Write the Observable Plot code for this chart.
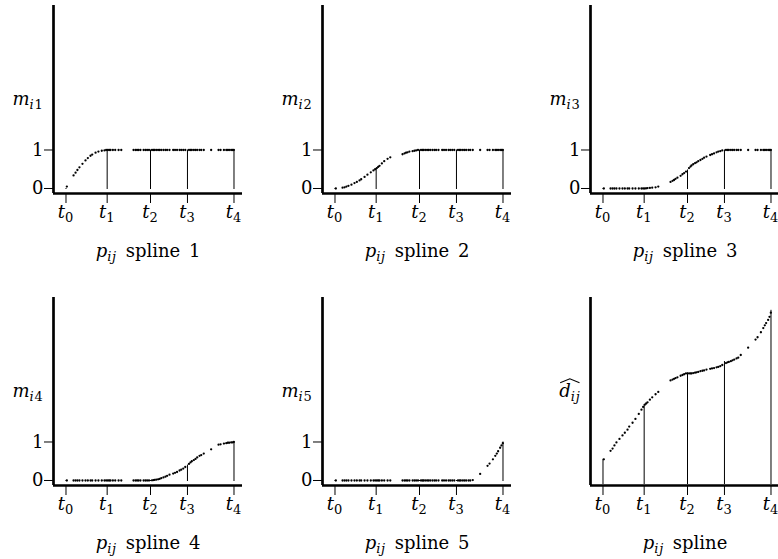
<!DOCTYPE html>
<html>
<head>
<meta charset="utf-8">
<script src="https://cdn.jsdelivr.net/npm/d3@7"></script>
<script src="https://cdn.jsdelivr.net/npm/@observablehq/plot@0.6"></script>
<style>
  body { margin: 0; background: #fff; }
  #figure { position: relative; width: 778px; height: 559px; overflow: hidden; background: #fff; }
  #figure svg { position: absolute; }
</style>
</head>
<body>
<div id="figure"></div>
<script>
// Observed predictor values p_ij (knot t0 = 0, knot t4 = 1)
const p = [
  0.005, 0.045, 0.057, 0.068, 0.080, 0.098, 0.116, 0.130, 0.146, 0.156,
  0.176, 0.193, 0.213, 0.229, 0.239, 0.249, 0.257, 0.265, 0.279, 0.293,
  0.313, 0.329, 0.402, 0.414, 0.423, 0.432, 0.443, 0.462, 0.473, 0.483,
  0.494, 0.512, 0.521, 0.527, 0.537, 0.548, 0.557, 0.567, 0.580, 0.592,
  0.602, 0.616, 0.638, 0.649, 0.661, 0.676, 0.686, 0.698, 0.710, 0.732,
  0.741, 0.749, 0.761, 0.771, 0.781, 0.795, 0.805, 0.820, 0.864, 0.908,
  0.920, 0.940, 0.954, 0.963, 0.971, 0.983, 0.991, 0.999
];

// Monotone spline basis values m_i1 .. m_i5 at each p_ij
const m1 = [
  0.05, 0.34, 0.41, 0.48, 0.55, 0.64, 0.73, 0.79, 0.85, 0.88,
  0.93, 0.96, 0.98, 0.99, 1, 1, 1, 1, 1, 1,
  1, 1, 1, 1, 1, 1, 1, 1, 1, 1,
  1, 1, 1, 1, 1, 1, 1, 1, 1, 1,
  1, 1, 1, 1, 1, 1, 1, 1, 1, 1,
  1, 1, 1, 1, 1, 1, 1, 1, 1, 1,
  1, 1, 1, 1, 1, 1, 1, 1
];
const m2 = [
  0, 0.02, 0.03, 0.05, 0.07, 0.10, 0.14, 0.17, 0.21, 0.24,
  0.30, 0.36, 0.42, 0.47, 0.50, 0.53, 0.56, 0.59, 0.65, 0.71,
  0.77, 0.81, 0.89, 0.91, 0.93, 0.94, 0.96, 0.97, 0.98, 0.99,
  1, 1, 1, 1, 1, 1, 1, 1, 1, 1,
  1, 1, 1, 1, 1, 1, 1, 1, 1, 1,
  1, 1, 1, 1, 1, 1, 1, 1, 1, 1,
  1, 1, 1, 1, 1, 1, 1, 1
];
const m3 = [
  0, 0, 0, 0, 0, 0, 0, 0, 0, 0,
  0, 0, 0, 0, 0, 0, 0.005, 0.01, 0.015, 0.02,
  0.03, 0.05, 0.17, 0.20, 0.22, 0.25, 0.28, 0.33, 0.37, 0.40,
  0.44, 0.53, 0.57, 0.60, 0.63, 0.66, 0.68, 0.71, 0.74, 0.77,
  0.80, 0.83, 0.87, 0.89, 0.91, 0.94, 0.96, 0.97, 0.99, 1,
  1, 1, 1, 1, 1, 1, 1, 1, 1, 1,
  1, 1, 1, 1, 1, 1, 1, 1
];
const m4 = [
  0, 0, 0, 0, 0, 0, 0, 0, 0, 0,
  0, 0, 0, 0, 0, 0, 0, 0, 0, 0,
  0, 0, 0, 0, 0, 0, 0, 0, 0, 0,
  0, 0.005, 0.01, 0.015, 0.02, 0.03, 0.04, 0.06, 0.08, 0.10,
  0.12, 0.15, 0.18, 0.20, 0.22, 0.26, 0.28, 0.31, 0.35, 0.43,
  0.47, 0.50, 0.53, 0.56, 0.60, 0.64, 0.66, 0.70, 0.81, 0.93,
  0.94, 0.96, 0.97, 0.98, 0.98, 0.99, 0.99, 1.00
];
const m5 = [
  0, 0, 0, 0, 0, 0, 0, 0, 0, 0,
  0, 0, 0, 0, 0, 0, 0, 0, 0, 0,
  0, 0, 0, 0, 0, 0, 0, 0, 0, 0,
  0, 0, 0, 0, 0, 0, 0, 0, 0, 0,
  0, 0, 0, 0, 0, 0, 0, 0, 0, 0,
  0, 0, 0, 0, 0, 0, 0, 0.01, 0.17, 0.38,
  0.44, 0.55, 0.64, 0.70, 0.76, 0.85, 0.91, 0.97
];
// Fitted spline d-hat_ij at each p_ij
const dhat = [
  0.55, 0.77, 0.83, 0.91, 0.99, 1.08, 1.17, 1.24, 1.32, 1.40,
  1.50, 1.60, 1.73, 1.84, 1.91, 1.97, 2.00, 2.03, 2.10, 2.16,
  2.24, 2.30, 2.60, 2.62, 2.64, 2.66, 2.68, 2.72, 2.74, 2.76,
  2.78, 2.78, 2.78, 2.78, 2.79, 2.80, 2.81, 2.82, 2.84, 2.85,
  2.86, 2.88, 2.90, 2.91, 2.92, 2.94, 2.95, 2.97, 3.00, 3.05,
  3.07, 3.08, 3.10, 3.12, 3.14, 3.17, 3.19, 3.26, 3.45, 3.66,
  3.72, 3.85, 3.96, 4.03, 4.09, 4.17, 4.25, 4.36
];

// Knots and each curve's value at the knots
const knots = [0, 0.245, 0.503, 0.723, 1];
const knotLabels = ["t_{0}", "t_{1}", "t_{2}", "t_{3}", "t_{4}"];
const knotM1 = [0, 1, 1, 1, 1];
const knotM2 = [0, 0.52, 1, 1, 1];
const knotM3 = [0, 0, 0.48, 1, 1];
const knotM4 = [0, 0, 0, 0.40, 1];
const knotM5 = [0, 0, 0, 0, 1];
const knotD = [0.55, 1.97, 2.80, 3.09, 4.42];

const yLabels = ["m_{i1}", "m_{i2}", "m_{i3}", "m_{i4}", "m_{i5}", "d_{ij}"];
const captions = ["p_{ij} spline 1", "p_{ij} spline 2", "p_{ij} spline 3",
                  "p_{ij} spline 4", "p_{ij} spline 5", "p_{ij} spline"];
const yTickValues = [0, 1];

const panels = [
  {values: m1, knotValues: knotM1, ylabel: yLabels[0], caption: captions[0], ticks: true},
  {values: m2, knotValues: knotM2, ylabel: yLabels[1], caption: captions[1], ticks: true},
  {values: m3, knotValues: knotM3, ylabel: yLabels[2], caption: captions[2], ticks: true},
  {values: m4, knotValues: knotM4, ylabel: yLabels[3], caption: captions[3], ticks: true},
  {values: m5, knotValues: knotM5, ylabel: yLabels[4], caption: captions[4], ticks: true},
  {values: dhat, knotValues: knotD, ylabel: yLabels[5], caption: captions[5], ticks: false, hat: true}
];

const FONT = "'DejaVu Serif', 'Liberation Serif', serif";
const SUB_SIZE = 13;
const SUB_SHIFT = 4;
const xDomain = [-0.0744, 1.0506];
const yDomain = [-0.13, 4.753];
const NS = "http://www.w3.org/2000/svg";

// Turn "x_{ab}" notation into italic symbols with lowered subscripts
function typeset(el) {
  const src = el.textContent;
  if (!src.includes("_{")) return;
  while (el.firstChild) el.removeChild(el.firstChild);
  let lowered = false;
  const span = (str, italic, sub) => {
    const ts = document.createElementNS(NS, "tspan");
    ts.textContent = str;
    if (italic) ts.setAttribute("font-style", "italic");
    if (sub) {
      ts.setAttribute("font-size", `${SUB_SIZE}px`);
      ts.setAttribute("letter-spacing", "0.8");
    }
    if (sub && !lowered) { ts.setAttribute("dy", SUB_SHIFT); lowered = true; }
    else if (!sub && lowered) { ts.setAttribute("dy", -SUB_SHIFT); lowered = false; }
    el.appendChild(ts);
  };
  const re = /([A-Za-z])_\{([^}]*)\}/g;
  let last = 0, m;
  while ((m = re.exec(src))) {
    if (m.index > last) span(src.slice(last, m.index), false, false);
    span(m[1], true, false);
    for (const piece of m[2].match(/[A-Za-z]+|[^A-Za-z]+/g)) {
      span(piece, /[A-Za-z]/.test(piece), true);
    }
    last = re.lastIndex;
  }
  if (last < src.length) span(src.slice(last), false, false);
  el.setAttribute("word-spacing", "3");
}

// Wide hat accent drawn over the whole typeset label (d-hat_ij)
function addHat(el) {
  const bb = el.getBBox();
  const base = el.getStartPositionOfChar(0).y;
  const x0 = bb.x + 1, x1 = bb.x + bb.width - 1, xm = (x0 + x1) / 2;
  const hat = document.createElementNS(NS, "path");
  hat.setAttribute("d", `M${x0},${base - 14.5}L${xm},${base - 18.5}L${x1},${base - 14.5}`);
  hat.setAttribute("fill", "none");
  hat.setAttribute("stroke", "black");
  hat.setAttribute("stroke-width", "1.1");
  const t = el.getAttribute("transform");
  if (t) hat.setAttribute("transform", t);
  el.parentNode.appendChild(hat);
}

const figure = document.getElementById("figure");
panels.forEach((panel, i) => {
  const row = Math.floor(i / 3), col = i % 3;
  const pts = p.map((v, k) => ({p: v, v: panel.values[k]}));
  const ks = knots.map((t, k) => ({t, v: panel.knotValues[k]}));
  const marks = [
    Plot.ruleX(ks, {x: "t", y1: yDomain[0], y2: "v", stroke: "black", strokeWidth: 1, insetTop: panel.hat ? -1 : -4}),
    Plot.dot(pts, {x: "p", y: "v", r: 1.15, fill: "black"}),
    Plot.axisX({ticks: knots, tickFormat: (d) => knotLabels[knots.indexOf(d)], tickSize: 10, tickPadding: 2, label: null}),
    Plot.ruleX([xDomain[0]], {stroke: "black", strokeWidth: 2.7}),
    Plot.ruleY([yDomain[0]], {stroke: "black", strokeWidth: 2.7}),
    Plot.text([panel.ylabel], {frameAnchor: "left", dx: -10, textAnchor: "end", text: (d) => d}),
    Plot.text([panel.caption], {frameAnchor: "bottom", dy: 63, text: (d) => d})
  ];
  if (panel.ticks) {
    marks.push(Plot.axisY({ticks: yTickValues, tickFormat: (d) => `${d}`, tickSize: 9, tickPadding: 1, label: null}));
  }
  const chart = Plot.plot({
    width: 268,
    height: 273,
    marginLeft: 53,
    marginRight: 26,
    marginTop: 5,
    marginBottom: 80,
    style: {fontFamily: FONT, fontSize: "18px", color: "black", background: "transparent", overflow: "visible"},
    x: {domain: xDomain},
    y: {domain: yDomain, axis: panel.ticks ? undefined : null},
    marks
  });
  chart.style.left = `${[0, 269, 537][col]}px`;
  chart.style.top = `${row * 292}px`;
  figure.appendChild(chart);
  chart.querySelectorAll("text").forEach(typeset);
  if (panel.hat) {
    const label = [...chart.querySelectorAll("text")].find((el) => el.textContent === "dij");
    if (label) addHat(label);
  }
});
</script>
</body>
</html>
